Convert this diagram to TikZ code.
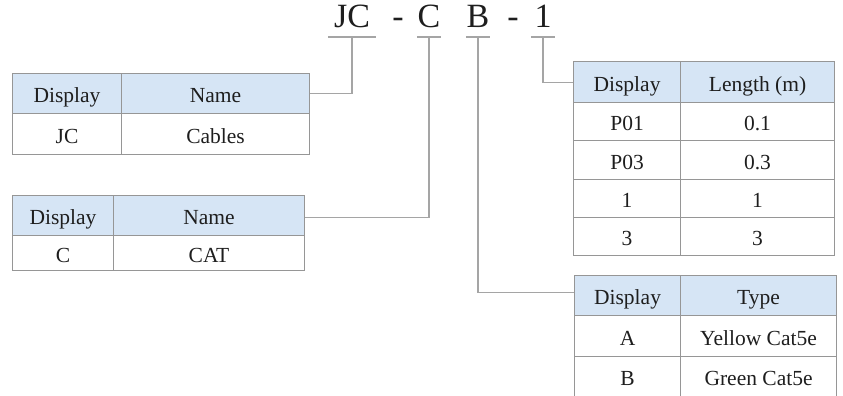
\documentclass[tikz,border=0pt]{standalone}
\usepackage{fontspec}
\setmainfont{Liberation Serif}
\definecolor{hdrblue}{RGB}{214,229,245}
\definecolor{gridgray}{RGB}{150,150,150}
\definecolor{linkgray}{RGB}{165,165,165}
\definecolor{inktext}{RGB}{30,30,30}
\tikzset{
  cell/.style={draw=gridgray, line width=1.1pt, rectangle, inner sep=0pt, anchor=north west,
    text=inktext, text height=18.5pt, text depth=0pt, font=\fontsize{21.5}{24}\selectfont},
  hcell/.style={cell, fill=hdrblue},
  code/.style={inner sep=0pt, anchor=south, text depth=9pt, text=inktext,
    font=\fontsize{34}{38}\selectfont},
  uline/.style={draw=linkgray, line width=1.1pt},
  link/.style={draw=linkgray, line width=1.1pt}
}
\begin{document}
\begin{tikzpicture}[x=1pt,y=-1pt]
\useasboundingbox (0,0) rectangle (843,396);

% part number
\node[code, minimum width=48pt] (lJC) at (352,37) {JC};
\node[code] (d1) at (398,37) {-};
\node[code, minimum width=24pt] (lC) at (429,37) {C};
\node[code, minimum width=24pt] (lB) at (478,37) {B};
\node[code] (d2) at (513,37) {-};
\node[code, minimum width=24pt] (l1) at (543,37) {1};
\foreach \n in {lJC,lC,lB,l1}
  \draw[uline] (\n.south west) -- (\n.south east);

% table: series
\node[hcell, minimum width=109pt, minimum height=40pt] (t1d) at (12,73) {Display};
\node[hcell, minimum width=188pt, minimum height=40pt] (t1n) at (121,73) {Name};
\node[cell, minimum width=109pt, minimum height=41pt] (t1a) at (12,113) {JC};
\node[cell, minimum width=188pt, minimum height=41pt] (t1b) at (121,113) {Cables};

% table: category
\node[hcell, minimum width=101pt, minimum height=40pt] (t2d) at (12,195) {Display};
\node[hcell, minimum width=191pt, minimum height=40pt] (t2n) at (113,195) {Name};
\node[cell, minimum width=101pt, minimum height=35pt] (t2a) at (12,235) {C};
\node[cell, minimum width=191pt, minimum height=35pt] (t2b) at (113,235) {CAT};

% table: length
\node[hcell, minimum width=107pt, minimum height=41pt] (t3d) at (573,61) {Display};
\node[hcell, minimum width=154pt, minimum height=41pt] (t3n) at (680,61) {Length (m)};
\foreach \y/\a/\b/\h [count=\i] in {102/P01/0.1/38, 140/P03/0.3/39, 179/1/1/38, 217/3/3/38} {
  \node[cell, minimum width=107pt, minimum height=\h pt] (t3a\i) at (573,\y) {\a};
  \node[cell, minimum width=154pt, minimum height=\h pt] (t3b\i) at (680,\y) {\b};
}

% table: type
\node[hcell, minimum width=106pt, minimum height=40pt] (t4d) at (574,275) {Display};
\node[hcell, minimum width=156pt, minimum height=40pt] (t4n) at (680,275) {Type};
\node[cell, minimum width=106pt, minimum height=41pt] (t4a1) at (574,315) {A};
\node[cell, minimum width=156pt, minimum height=41pt] (t4b1) at (680,315) {Yellow Cat5e};
\node[cell, minimum width=106pt, minimum height=40pt] (t4a2) at (574,356) {B};
\node[cell, minimum width=156pt, minimum height=40pt] (t4b2) at (680,356) {Green Cat5e};

% leaders
\draw[link] (lJC.south) |- (t1n.east);
\draw[link] (lC.south) |- ([yshift=-2pt]t2n.east);
\draw[link] (l1.south) |- (t3d.west);
\draw[link] (lB.south) |- ([yshift=3pt]t4d.west);
\end{tikzpicture}
\end{document}
